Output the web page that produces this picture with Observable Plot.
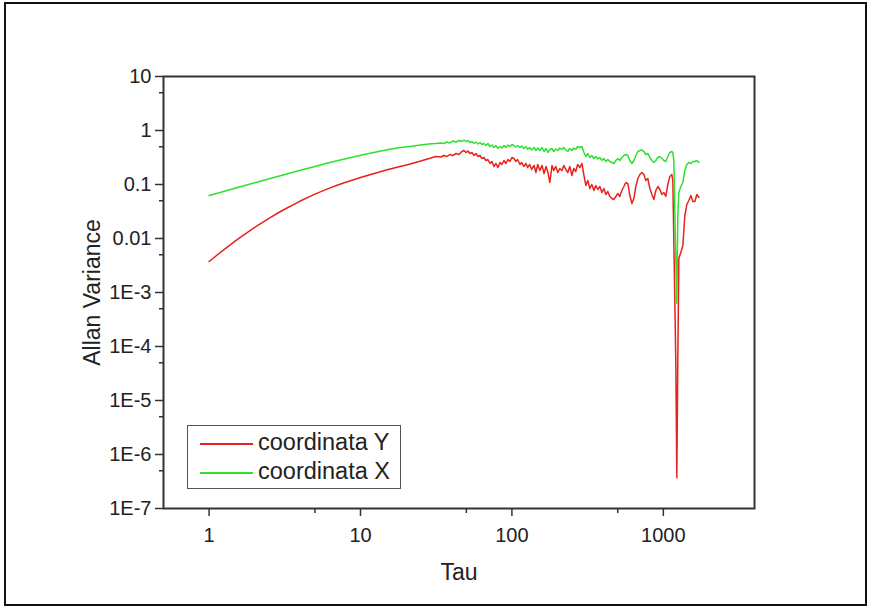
<!DOCTYPE html>
<html><head><meta charset="utf-8">
<script src="https://cdn.jsdelivr.net/npm/d3@7"></script>
<script src="https://cdn.jsdelivr.net/npm/@observablehq/plot@0.6"></script>
<style>
body{margin:0;background:#fff;font-family:"Liberation Sans",Arial,sans-serif;}
#wrap{position:relative;width:869px;height:610px;overflow:hidden;}
#border{position:absolute;left:4px;top:2px;width:859px;height:600px;border:2px solid #111;pointer-events:none;}
#legend{position:absolute;left:187px;top:425px;width:214px;height:64px;border:1px solid #555;background:#fff;box-sizing:border-box;}
.row{position:absolute;left:0;height:28px;width:212px;}
.sw{position:absolute;left:12px;width:53px;height:2px;top:15px;}
.lt{position:absolute;left:70px;top:0;font-size:23.5px;line-height:28px;color:#222;white-space:nowrap;}
svg g[aria-label="y-axis label"] text, svg g[aria-label="x-axis label"] text{font-size:23px;}
</style>
</head><body>
<div id="wrap"><div id="chart"></div>
<div id="legend">
 <div class="row" style="top:2px"><div class="sw" style="background:#e8221c"></div><div class="lt">coordinata Y</div></div>
 <div class="row" style="top:31px"><div class="sw" style="background:#2fe02f"></div><div class="lt">coordinata X</div></div>
</div>
<div id="border"></div>
</div>
<script>
const seriesNames = ["coordinata Y", "coordinata X"];
const seriesColors = ["#e8221c", "#2fe02f"];

const tau = [
 1, 1.2, 1.5, 2, 2.5, 3, 4, 5, 6, 7, 8, 10, 12, 15, 18, 21, 25,
 29.2, 31.4, 34.0, 35.5, 37.2, 38.9, 40.7, 42.7, 44.7, 46.8,
 48.3, 49.7, 51.3, 52.8, 54.5, 56.2, 57.9, 59.7, 61.5, 63.4,
 65.4, 67.3, 69.4, 71.6, 73.8, 76.1, 78.4, 80.9, 83.4, 85.9,
 88.6, 91.3, 94.1, 97.0, 100, 103, 106, 109, 113, 116,
 120, 124, 127, 131, 135, 140, 144, 148, 153, 158,
 163, 168, 173, 178, 184, 189, 195, 201, 207, 214,
 220, 227, 234, 241, 249, 256, 264, 272, 281, 290,
 299, 308, 317, 327, 337, 348, 358, 369, 381, 393,
 405, 417, 430, 443, 457, 471, 486, 501, 516, 532,
 549, 565, 583, 601, 620, 639, 658, 679, 700, 721,
 744, 766, 790, 815, 840, 866, 892, 920, 948, 978,
 1008, 1038, 1071, 1104, 1138,
 1155, 1173, 1191, 1209, 1228, 1246, 1266,
 1305, 1345, 1387, 1430, 1474, 1520, 1567, 1615, 1665, 1717
];

// coordinata Y (red)
const allanY = [
 0.00375, 0.00565, 0.00910, 0.0160, 0.0239, 0.0323, 0.0494, 0.0664, 0.0822, 0.0966, 0.110, 0.135, 0.157, 0.187, 0.214, 0.238, 0.272,
 0.310, 0.330, 0.323, 0.344, 0.330, 0.359, 0.344, 0.375, 0.359, 0.408,
 0.426, 0.391, 0.417, 0.375, 0.391, 0.344, 0.375, 0.330, 0.344, 0.303,
 0.316, 0.278, 0.290, 0.245, 0.267, 0.216, 0.245, 0.206, 0.255, 0.235,
 0.278, 0.245, 0.290, 0.267, 0.316, 0.303, 0.267, 0.290, 0.235, 0.255,
 0.216, 0.245, 0.206, 0.235, 0.190, 0.225, 0.167, 0.235, 0.182, 0.225,
 0.160, 0.216, 0.167, 0.109, 0.225, 0.182, 0.216, 0.167, 0.198, 0.182,
 0.225, 0.190, 0.167, 0.216, 0.147, 0.198, 0.174, 0.235, 0.206, 0.245,
 0.147, 0.0958, 0.119, 0.0843, 0.100, 0.0774, 0.0958, 0.0808, 0.0918, 0.0711,
 0.0843, 0.0653, 0.0742, 0.0600, 0.0550, 0.0527, 0.0600, 0.0681, 0.0600, 0.0774,
 0.0918, 0.109, 0.104, 0.0625, 0.0445, 0.0550, 0.0918, 0.129, 0.153, 0.167,
 0.153, 0.119, 0.129, 0.0843, 0.0653, 0.0527, 0.0774, 0.0918, 0.0808, 0.0653,
 0.0711, 0.0600, 0.100, 0.141, 0.153,
 0.119, 0.00918, 7.11e-4, 4.9e-5, 3.7e-7, 5.5e-5, 0.0043,
 0.0055, 0.0074, 0.0267, 0.0426, 0.0506, 0.0625, 0.0484, 0.0484, 0.0653, 0.0574
];

// coordinata X (green)
const allanX = [
 0.0625, 0.0720, 0.0858, 0.1075, 0.1276, 0.147, 0.183, 0.216, 0.247, 0.275, 0.301, 0.347, 0.388, 0.439, 0.478, 0.506, 0.539,
 0.567, 0.574, 0.587, 0.574, 0.612, 0.587, 0.639, 0.612, 0.653, 0.626,
 0.667, 0.626, 0.653, 0.600, 0.626, 0.574, 0.612, 0.562, 0.600, 0.550,
 0.574, 0.528, 0.574, 0.506, 0.539, 0.484, 0.528, 0.464, 0.506, 0.474,
 0.528, 0.484, 0.539, 0.506, 0.550, 0.528, 0.495, 0.528, 0.484, 0.516,
 0.464, 0.506, 0.445, 0.484, 0.435, 0.484, 0.426, 0.474, 0.426, 0.484,
 0.408, 0.464, 0.391, 0.445, 0.464, 0.408, 0.454, 0.426, 0.474, 0.445,
 0.484, 0.435, 0.408, 0.464, 0.426, 0.474, 0.445, 0.506, 0.484, 0.506,
 0.391, 0.330, 0.375, 0.316, 0.344, 0.303, 0.330, 0.297, 0.316, 0.278,
 0.303, 0.267, 0.290, 0.267, 0.255, 0.245, 0.278, 0.303, 0.278, 0.316,
 0.344, 0.359, 0.344, 0.278, 0.245, 0.278, 0.344, 0.408, 0.426, 0.435,
 0.408, 0.359, 0.375, 0.316, 0.278, 0.255, 0.278, 0.316, 0.330, 0.303,
 0.278, 0.267, 0.330, 0.391, 0.408,
 0.391, 0.278, 0.0330, 0.00392, 6.3e-4, 0.0267, 0.0711,
 0.0918, 0.109, 0.182, 0.235, 0.255, 0.245, 0.267, 0.267, 0.278, 0.255
];

const yTicks = [10, 1, 0.1, 0.01, 1e-3, 1e-4, 1e-5, 1e-6, 1e-7];
const yTickLabels = ["10", "1", "0.1", "0.01", "1E-3", "1E-4", "1E-5", "1E-6", "1E-7"];
const yMinorTicks = [5, 0.5, 0.05, 0.005, 5e-4, 5e-5, 5e-6, 5e-7];
const xTicks = [1, 10, 100, 1000];
const xTickLabels = ["1", "10", "100", "1000"];
const xMinorTicks = [5, 50, 500];

const n = Math.min(tau.length, allanY.length, allanX.length);
const dataY = tau.slice(0, n).map((t, i) => ({tau: t, v: allanY[i]}));
const dataX = tau.slice(0, n).map((t, i) => ({tau: t, v: allanX[i]}));

const chart = Plot.plot({
  width: 869, height: 610,
  marginLeft: 163, marginRight: 115, marginTop: 76, marginBottom: 102,
  x: {type: "log", domain: [0.5, 4000]},
  y: {type: "log", domain: [1e-7, 10]},
  style: {fontFamily: "'Liberation Sans', Arial, sans-serif", fontSize: "20px", color: "#222", background: "#fff"},
  marks: [
    Plot.axisY(yMinorTicks, {tickSize: 4, tickFormat: () => "", strokeWidth: 1.5, stroke: "#333", label: null}),
    Plot.axisX(xMinorTicks, {tickSize: 5, tickFormat: () => "", strokeWidth: 1.5, stroke: "#333", label: null}),
    Plot.axisY(yTicks, {tickSize: 8, tickPadding: 4, strokeWidth: 1.5, stroke: "#333",
      tickFormat: d => yTickLabels[yTicks.indexOf(d)],
      label: "Allan Variance", labelAnchor: "center", labelOffset: 80, labelArrow: "none"}),
    Plot.axisX(xTicks, {tickSize: 8, tickPadding: 11, strokeWidth: 1.5, stroke: "#333",
      tickFormat: d => xTickLabels[xTicks.indexOf(d)],
      label: "Tau", labelAnchor: "center", labelOffset: 71, labelArrow: "none"}),
    Plot.line(dataY, {x: "tau", y: "v", stroke: seriesColors[0], strokeWidth: 1.5}),
    Plot.line(dataX, {x: "tau", y: "v", stroke: seriesColors[1], strokeWidth: 1.5}),
    Plot.frame({stroke: "#333", strokeWidth: 2})
  ]
});
document.getElementById("chart").appendChild(chart);
</script>
</body></html>
